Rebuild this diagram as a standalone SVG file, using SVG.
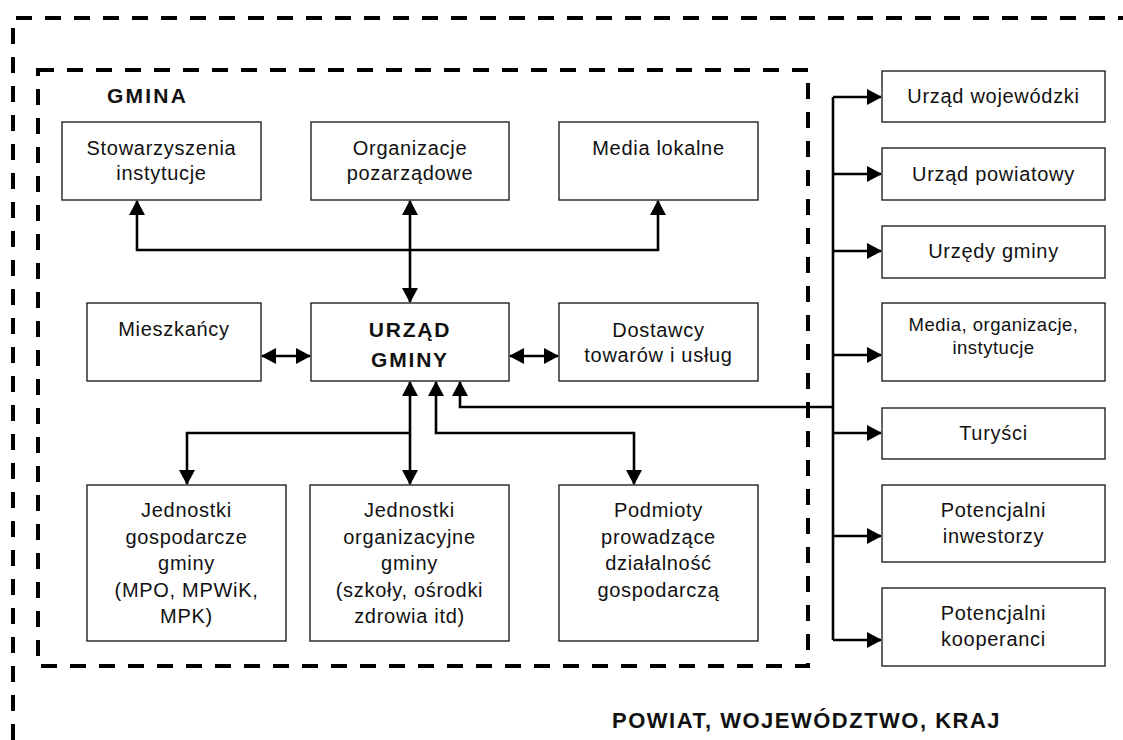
<svg xmlns="http://www.w3.org/2000/svg" width="1123" height="740" viewBox="0 0 1123 740">
<style>
.bg{fill:#fff}
.box{fill:#fff;stroke:#222;stroke-width:1.4}
.dash{fill:none;stroke:#000;stroke-width:4;stroke-dasharray:16 13}
.con{fill:none;stroke:#000;stroke-width:2.6}
text{font-family:"Liberation Sans",Arial,sans-serif;fill:#111;text-anchor:middle}
.t{font-size:20px;letter-spacing:0.7px}
.ts{font-size:18.5px;letter-spacing:0.5px}
.b{font-weight:bold;font-size:21px;letter-spacing:1.8px}
.lbl{font-weight:bold;font-size:21px;letter-spacing:2.2px;text-anchor:start}
.big{font-weight:bold;font-size:22px;letter-spacing:1.5px;text-anchor:start}
</style>
<defs>
<marker id="ah" markerUnits="userSpaceOnUse" markerWidth="15" markerHeight="16" viewBox="0 0 15 16" refX="14" refY="8" orient="auto-start-reverse">
<path d="M0,0 L15,8 L0,16 z" fill="#000"/>
</marker>
</defs>
<rect class="bg" x="0" y="0" width="1123" height="740"/>
<g id="frames">
<path class="dash" d="M13,740 V18 H1123"/>
<rect class="dash" x="38" y="70" width="770" height="596"/>
<text class="lbl" x="107" y="103">GMINA</text>
<text class="big" x="612" y="728">POWIAT, WOJEWÓDZTWO, KRAJ</text>
</g>
<g id="connectors">
<path class="con" d="M137,201 V250 H658 V201" marker-start="url(#ah)" marker-end="url(#ah)"/>
<path class="con" d="M410,201 V302" marker-start="url(#ah)" marker-end="url(#ah)"/>
<path class="con" d="M262,356 H310" marker-start="url(#ah)" marker-end="url(#ah)"/>
<path class="con" d="M510,356 H558" marker-start="url(#ah)" marker-end="url(#ah)"/>
<path class="con" d="M410,382 V484" marker-start="url(#ah)" marker-end="url(#ah)"/>
<path class="con" d="M410,433 H187 V484" marker-end="url(#ah)"/>
<path class="con" d="M436,382 V433 H634 V484" marker-start="url(#ah)" marker-end="url(#ah)"/>
<path class="con" d="M460,382 V407 H833" marker-start="url(#ah)"/>
<path class="con" d="M833,97 V640"/>
<path class="con" d="M833,97 H881" marker-end="url(#ah)"/>
<path class="con" d="M833,174 H881" marker-end="url(#ah)"/>
<path class="con" d="M833,251 H881" marker-end="url(#ah)"/>
<path class="con" d="M833,355 H881" marker-end="url(#ah)"/>
<path class="con" d="M833,433 H881" marker-end="url(#ah)"/>
<path class="con" d="M833,536 H881" marker-end="url(#ah)"/>
<path class="con" d="M833,640 H881" marker-end="url(#ah)"/>
</g>
<g id="n-stowarzyszenia">
<rect class="box" x="62" y="122" width="199" height="78"/>
<text class="t" x="161.5" y="155">Stowarzyszenia</text>
<text class="t" x="161.5" y="180">instytucje</text>
</g>
<g id="n-organizacje">
<rect class="box" x="311" y="122" width="198" height="78"/>
<text class="t" x="410" y="155">Organizacje</text>
<text class="t" x="410" y="180">pozarządowe</text>
</g>
<g id="n-media-lokalne">
<rect class="box" x="559" y="122" width="199" height="78"/>
<text class="t" x="658.5" y="155">Media lokalne</text>
</g>
<g id="n-mieszkancy">
<rect class="box" x="87" y="303" width="174" height="78"/>
<text class="t" x="174" y="336">Mieszkańcy</text>
</g>
<g id="n-urzad-gminy">
<rect class="box" x="311" y="303" width="198" height="78"/>
<text class="b" x="410" y="337">URZĄD</text>
<text class="b" x="410" y="367">GMINY</text>
</g>
<g id="n-dostawcy">
<rect class="box" x="559" y="303" width="199" height="78"/>
<text class="t" x="658.5" y="337">Dostawcy</text>
<text class="t" x="658.5" y="362">towarów i usług</text>
</g>
<g id="n-jedn-gosp">
<rect class="box" x="87" y="485" width="199" height="156"/>
<text class="t" x="186.5" y="517">Jednostki</text>
<text class="t" x="186.5" y="543.5">gospodarcze</text>
<text class="t" x="186.5" y="570">gminy</text>
<text class="t" x="186.5" y="596.5">(MPO, MPWiK,</text>
<text class="t" x="186.5" y="623">MPK)</text>
</g>
<g id="n-jedn-org">
<rect class="box" x="310" y="485" width="199" height="156"/>
<text class="t" x="409.5" y="517">Jednostki</text>
<text class="t" x="409.5" y="543.5">organizacyjne</text>
<text class="t" x="409.5" y="570">gminy</text>
<text class="t" x="409.5" y="596.5">(szkoły, ośrodki</text>
<text class="t" x="409.5" y="623">zdrowia itd)</text>
</g>
<g id="n-podmioty">
<rect class="box" x="559" y="485" width="199" height="156"/>
<text class="t" x="658.5" y="517">Podmioty</text>
<text class="t" x="658.5" y="543.5">prowadzące</text>
<text class="t" x="658.5" y="570">działalność</text>
<text class="t" x="658.5" y="596.5">gospodarczą</text>
</g>
<g id="n-urzad-woj">
<rect class="box" x="882" y="71" width="223" height="51"/>
<text class="t" x="993.5" y="103">Urząd wojewódzki</text>
</g>
<g id="n-urzad-pow">
<rect class="box" x="882" y="148" width="223" height="52"/>
<text class="t" x="993.5" y="181">Urząd powiatowy</text>
</g>
<g id="n-urzedy-gminy">
<rect class="box" x="882" y="226" width="223" height="52"/>
<text class="t" x="993.5" y="258">Urzędy gminy</text>
</g>
<g id="n-media-org">
<rect class="box" x="882" y="303" width="223" height="78"/>
<text class="ts" x="993.5" y="331">Media, organizacje,</text>
<text class="ts" x="993.5" y="354">instytucje</text>
</g>
<g id="n-turysci">
<rect class="box" x="882" y="408" width="223" height="51"/>
<text class="t" x="993.5" y="440">Turyści</text>
</g>
<g id="n-inwestorzy">
<rect class="box" x="882" y="485" width="223" height="77"/>
<text class="t" x="993.5" y="517">Potencjalni</text>
<text class="t" x="993.5" y="543">inwestorzy</text>
</g>
<g id="n-kooperanci">
<rect class="box" x="882" y="588" width="223" height="78"/>
<text class="t" x="993.5" y="620">Potencjalni</text>
<text class="t" x="993.5" y="646">kooperanci</text>
</g>
</svg>
